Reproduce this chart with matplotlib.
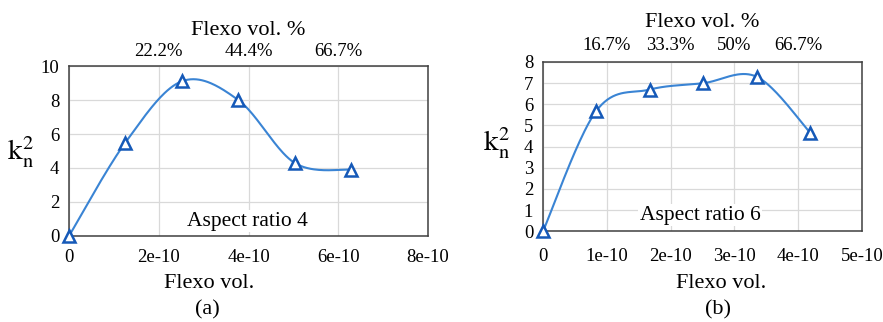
import numpy as np
import matplotlib
matplotlib.use("Agg")
import matplotlib.pyplot as plt

plt.rcParams['font.family'] = ['Liberation Serif', 'DejaVu Serif']
plt.rcParams['mathtext.fontset'] = 'stix'

# data
vol_a = [0, 1.257e-10, 2.514e-10, 3.771e-10, 5.028e-10, 6.285e-10]
kn2_a = [0, 5.5, 9.1, 8.0, 4.3, 3.9]
top_ticks_a = [2e-10, 4e-10, 6e-10]
top_labels_a = ['22.2%', '44.4%', '66.7%']

vol_b = [0, 0.838e-10, 1.676e-10, 2.514e-10, 3.352e-10, 4.19e-10]
kn2_b = [0, 5.7, 6.7, 7.0, 7.3, 4.65]
top_ticks_b = [1e-10, 2e-10, 3e-10, 4e-10]
top_labels_b = ['16.7%', '33.3%', '50%', '66.7%']

LINE_C = '#3a84d4'
MARK_C = '#1559b8'


def smooth(x, y, n=40):
    # Catmull-Rom style bezier through the points (like a spreadsheet smoothed line)
    p = np.column_stack([x, y]).astype(float)
    out = []
    for i in range(len(p) - 1):
        p0 = p[max(i - 1, 0)]
        p1, p2 = p[i], p[i + 1]
        p3 = p[min(i + 2, len(p) - 1)]
        c1 = p1 + (p2 - p0) / 6
        c2 = p2 - (p3 - p1) / 6
        t = np.linspace(0, 1, n)[:, None]
        seg = ((1 - t) ** 3) * p1 + 3 * ((1 - t) ** 2) * t * c1 + 3 * (1 - t) * t ** 2 * c2 + t ** 3 * p2
        out.append(seg)
    s = np.vstack(out)
    return s[:, 0], s[:, 1]


def panel(fig, rect, x, y, xmax, xticks, xlabels_fmt, ymax, yticks, top_ticks, top_labels,
          note, note_pos, ylab_pos, xlab_pos, title_pad, bottom_pad, top_pad):
    ax = fig.add_axes(rect)
    sx, sy = smooth(x, y)
    ax.plot(sx, sy, color=LINE_C, lw=1.5, zorder=3)
    ax.plot(x, y, ls='none', marker='^', ms=9, mfc='white', mec=MARK_C, mew=1.8,
            zorder=4, clip_on=False)
    ax.set_xlim(0, xmax)
    ax.set_ylim(0, ymax)
    ax.set_xticks(xticks)
    ax.set_xticklabels(xlabels_fmt)
    ax.set_yticks(yticks)
    ax.grid(True, color='#d9d9d9', lw=0.9)
    ax.set_axisbelow(True)
    ax.tick_params(length=0, labelsize=13.5)
    ax.tick_params(axis='x', pad=bottom_pad)
    ax.tick_params(axis='y', pad=7)
    for sp in ax.spines.values():
        sp.set_color('#404040')
        sp.set_linewidth(1.1)

    sec = ax.secondary_xaxis('top')
    sec.set_xticks(top_ticks)
    sec.set_xticklabels(top_labels)
    sec.tick_params(length=0, labelsize=13.5, pad=top_pad)
    sec.spines['top'].set_visible(False)
    sec.set_xlabel('Flexo vol. %', fontsize=16, labelpad=title_pad)

    ax.set_xlabel('Flexo vol.', fontsize=16)
    ax.xaxis.set_label_coords(*xlab_pos)
    ax.xaxis.label.set_va('center')
    ax.set_ylabel(r'$\mathrm{k}_\mathrm{n}^2$', fontsize=21, rotation=0)
    ax.yaxis.set_label_coords(*ylab_pos)
    ax.yaxis.label.set_va('center')

    ax.text(note_pos[0], note_pos[1], note, transform=ax.transAxes, ha='center', va='center',
            fontsize=15.5, zorder=2,
            bbox=dict(facecolor='white', edgecolor='none', pad=1))
    return ax


fig = plt.figure(figsize=(8.83, 3.22), dpi=100)

panel(fig, [69 / 883, 86 / 322, 359 / 883, 170 / 322], vol_a, kn2_a, 8e-10,
      [0, 2e-10, 4e-10, 6e-10, 8e-10], ['0', '2e-10', '4e-10', '6e-10', '8e-10'],
      10, [0, 2, 4, 6, 8, 10], top_ticks_a, top_labels_a,
      'Aspect ratio 4', (0.496, 0.088), (-0.135, 0.49), (0.39, -0.277), 6, 9, 4)

panel(fig, [543 / 883, 90.7 / 322, 319 / 883, 169.3 / 322], vol_b, kn2_b, 5e-10,
      [0, 1e-10, 2e-10, 3e-10, 4e-10, 5e-10], ['0', '1e-10', '2e-10', '3e-10', '4e-10', '5e-10'],
      8, list(range(9)), top_ticks_b, top_labels_b,
      'Aspect ratio 6', (0.492, 0.096), (-0.145, 0.52), (0.559, -0.307), 7, 12, 6)

fig.text(207 / 883, 1 - 310 / 322, '(a)', ha='center', va='center', fontsize=16)
fig.text(718 / 883, 1 - 310 / 322, '(b)', ha='center', va='center', fontsize=16)

fig.savefig('out.png', dpi=100)
